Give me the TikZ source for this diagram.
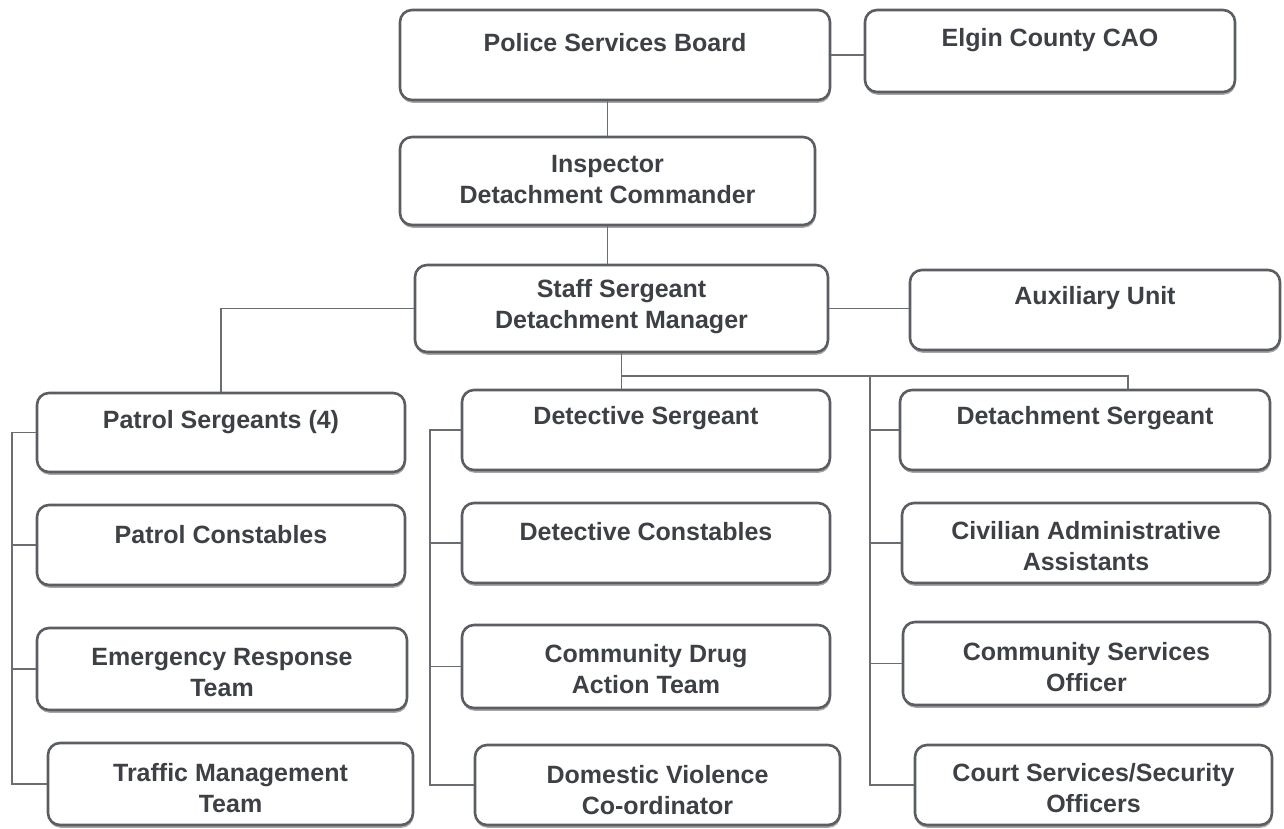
\documentclass[tikz,border=0pt]{standalone}
\usepackage{fontspec}
\setmainfont{Liberation Sans}
\usetikzlibrary{shadows}
\definecolor{txtc}{HTML}{3D4146}
\definecolor{boxc}{HTML}{5A5E62}
\definecolor{linec}{HTML}{6A6E72}
\tikzset{
  orgbox/.style={draw=boxc, line width=2.6pt, rounded corners=12pt, fill=white,
    inner sep=0pt,
    drop shadow={shadow xshift=0.6pt, shadow yshift=-2.8pt, opacity=0.35, fill=black}},
  lbl/.style={text=txtc, font=\fontsize{25}{31}\selectfont\bfseries, align=center, inner sep=0pt},
  conn/.style={draw=linec, line width=1.6pt}
}
\begin{document}
\begin{tikzpicture}[x=1pt,y=-1pt]
\useasboundingbox (0,0) rectangle (1284,829);
% boxes
\node[orgbox, minimum width=430pt, minimum height=90pt] (psb) at (615,55) {};
\node[orgbox, minimum width=370pt, minimum height=82pt] (cao) at (1050,51) {};
\node[orgbox, minimum width=415pt, minimum height=88pt] (insp) at (607.5,181) {};
\node[orgbox, minimum width=413pt, minimum height=87pt] (ss) at (621.5,308.5) {};
\node[orgbox, minimum width=370pt, minimum height=80pt] (aux) at (1095,310) {};
\node[orgbox, minimum width=368pt, minimum height=79pt] (ps) at (221,432.5) {};
\node[orgbox, minimum width=368pt, minimum height=80pt] (pc) at (221,545) {};
\node[orgbox, minimum width=370pt, minimum height=82pt] (ert) at (222,669) {};
\node[orgbox, minimum width=365pt, minimum height=82pt] (tmt) at (230.5,784) {};
\node[orgbox, minimum width=368pt, minimum height=80pt] (ds) at (646,430) {};
\node[orgbox, minimum width=368pt, minimum height=80pt] (dc) at (646,543) {};
\node[orgbox, minimum width=368pt, minimum height=83pt] (cdat) at (646,666.5) {};
\node[orgbox, minimum width=365pt, minimum height=80pt] (dvc) at (657.5,785) {};
\node[orgbox, minimum width=370pt, minimum height=80pt] (dts) at (1085,430) {};
\node[orgbox, minimum width=368pt, minimum height=80pt] (caa) at (1086,543) {};
\node[orgbox, minimum width=367pt, minimum height=83pt] (cso) at (1086.5,663.5) {};
\node[orgbox, minimum width=357pt, minimum height=80pt] (cs) at (1093.5,785) {};
% labels
\node[lbl] (tpsb) at (615,43) {Police Services Board};
\node[lbl] (tcao) at (1050,40) {Elgin County CAO};
\node[lbl] (tinsp) at (607.5,180) {Inspector\\Detachment Commander};
\node[lbl] (tss) at (621.5,307) {Staff Sergeant\\Detachment Manager};
\node[lbl] (taux) at (1095,298) {Auxiliary Unit};
\node[lbl] (tps) at (221,422) {Patrol Sergeants (4)};
\node[lbl] (tpc) at (221,535) {Patrol Constables};
\node[lbl] (tert) at (222,673) {Emergency Response\\Team};
\node[lbl] (ttmt) at (230.5,788) {Traffic Management\\Team};
\node[lbl] (tds) at (646,418) {Detective Sergeant};
\node[lbl] (tdc) at (646,532) {Detective Constables};
\node[lbl] (tcdat) at (646,669) {Community Drug\\Action Team};
\node[lbl] (tdvc) at (657.5,790) {Domestic Violence\\Co-ordinator};
\node[lbl] (tdts) at (1085,418) {Detachment Sergeant};
\node[lbl] (tcaa) at (1086,546) {Civilian Administrative\\Assistants};
\node[lbl] (tcso) at (1086.5,667) {Community Services\\Officer};
\node[lbl] (tcs) at (1093.5,788) {Court Services/Security\\Officers};
% coordinates
\coordinate (hub) at (621.5,376);
\coordinate (rtick) at (1128,376);
\coordinate (rsp) at (870,376);
\coordinate (dsp) at (430,430);
\coordinate (lsp) at (12,432.5);
% connectors
\begin{scope}[on background layer/.style={}]
\end{scope}
\draw[conn] (psb.east) -- (psb.east -| cao.west);
\draw[conn] (insp.north |- psb.south) -- (insp.north);
\draw[conn] (insp.south) -- (insp.south |- ss.north);
\draw[conn] (ss.east) -- (ss.east -| aux.west);
\draw[conn] (ss.west) -| (ps.north);
\draw[conn] (ss.south) -- (hub) -- (hub |- ds.north);
\draw[conn] (hub) -- (rtick) -- (rtick |- dts.north);
\draw[conn] (rsp) |- (cs.west);
\draw[conn] (rsp |- dts.west) -- (dts.west);
\draw[conn] (rsp |- caa.west) -- (caa.west);
\draw[conn] (rsp |- cso.west) -- (cso.west);
\draw[conn] (ds.west) -- (dsp) |- (dvc.west);
\draw[conn] (dsp |- dc.west) -- (dc.west);
\draw[conn] (dsp |- cdat.west) -- (cdat.west);
\draw[conn] (ps.west) -- (lsp) |- (tmt.west);
\draw[conn] (lsp |- pc.west) -- (pc.west);
\draw[conn] (lsp |- ert.west) -- (ert.west);
\end{tikzpicture}
\end{document}
